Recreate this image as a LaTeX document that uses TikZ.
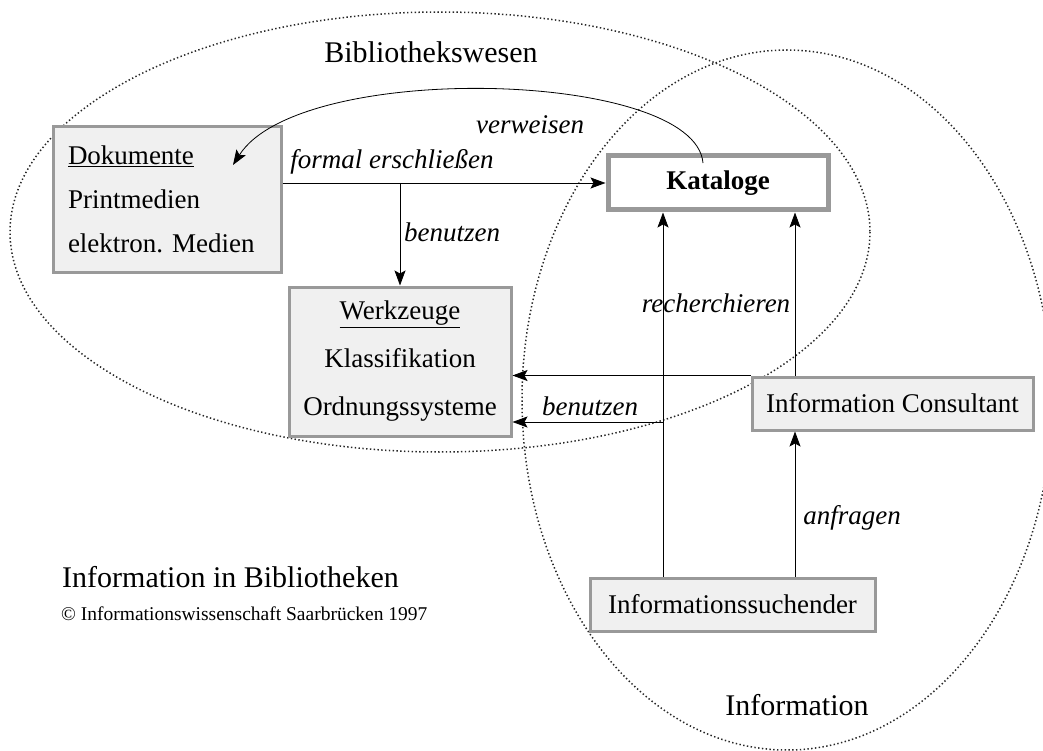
\documentclass[tikz,border=0pt]{standalone}
\usepackage{fontspec}
\setmainfont{Liberation Serif}
\usetikzlibrary{arrows.meta}
\begin{document}
\frenchspacing
\begin{tikzpicture}[x=1pt,y=-1pt,
  box/.style={draw=black!40, line width=3pt, fill=black!6, inner sep=0pt},
  katbox/.style={draw=black!40, line width=5pt, fill=white, inner sep=0pt},
  arr/.style={-{Stealth[length=15pt,width=11pt,inset=3pt]}, line width=0.8pt},
  lbl/.style={font=\fontsize{27}{30}\selectfont\itshape, inner sep=0pt},
  ell/.style={line width=1.5pt, dash pattern=on 1.4pt off 2.4pt, black!85},
  ttl/.style={font=\fontsize{30}{34}\selectfont, inner sep=0pt}
]
\useasboundingbox (0,0) rectangle (1043,751);
% ellipses
\draw[ell] (440,232) ellipse [x radius=430, y radius=220];
\draw[ell] (787,400) ellipse [x radius=265, y radius=350];
% boxes
\node[box, minimum width=228, minimum height=145, text width=198, align=left,
  font=\fontsize{27}{44}\selectfont] (dok) at (167,199.5)
  {\underline{Dokumente}\\Printmedien\\elektron.\ Medien};
\node[box, minimum width=222, minimum height=149, text width=215, align=center,
  font=\fontsize{27}{48}\selectfont] (werk) at (400,361.5)
  {\underline{Werkzeuge}\\Klassifikation\\Ordnungssysteme};
\node[katbox, minimum width=220, minimum height=54,
  font=\fontsize{27}{30}\selectfont\bfseries] (kat) at (718,183) {Kataloge};
\node[box, minimum width=281, minimum height=53,
  font=\fontsize{27}{30}\selectfont] (ic) at (892.5,403.5) {Information Consultant};
\node[box, minimum width=285, minimum height=53,
  font=\fontsize{27}{30}\selectfont] (is) at (732.5,604.5) {Informationssuchender};
% helper coordinates
\coordinate (c1) at (663,0);
\coordinate (c2) at (795,0);
\coordinate (c3) at (663,422);
\coordinate (vstart) at (703,163);
\coordinate (vend) at (233,165);
% connectors
\draw[arr] (dok.east |- kat.west) -- (kat.west);
\draw[arr] (werk.north |- kat.west) -- (werk.north);
\draw[arr] (vstart) .. controls (695,70) and (300,60) .. (vend);
\draw[arr] (c1 |- is.north) -- (c1 |- kat.south);
\draw[arr] (c2 |- ic.north) -- (c2 |- kat.south);
\draw[arr] (c2 |- is.north) -- (c2 |- ic.south);
\draw[arr] (ic.north west) -- (ic.north west -| werk.east);
\draw[arr] (c3) -- (c3 -| werk.east);
% labels
\node[lbl] (lverw) at (530,125) {verweisen};
\node[lbl] (lform) at (392,162) {formal erschließen};
\node[lbl] (lben1) at (452,232) {benutzen};
\node[lbl] (lrech) at (716,303) {recherchieren};
\node[lbl] (lben2) at (590,406) {benutzen};
\node[lbl] (lanf) at (852,518) {anfragen};
% titles
\node[ttl] (tbib) at (431,52) {Bibliothekswesen};
\node[ttl] (tinf) at (797,705) {Information};
\node[ttl, anchor=west] (tiib) at (62,577) {Information in Bibliotheken};
\node[font=\fontsize{19.5}{22}\selectfont, anchor=west, inner sep=0pt] (tcopy) at (61,614)
  {© Informationswissenschaft Saarbrücken 1997};
\end{tikzpicture}
\end{document}
